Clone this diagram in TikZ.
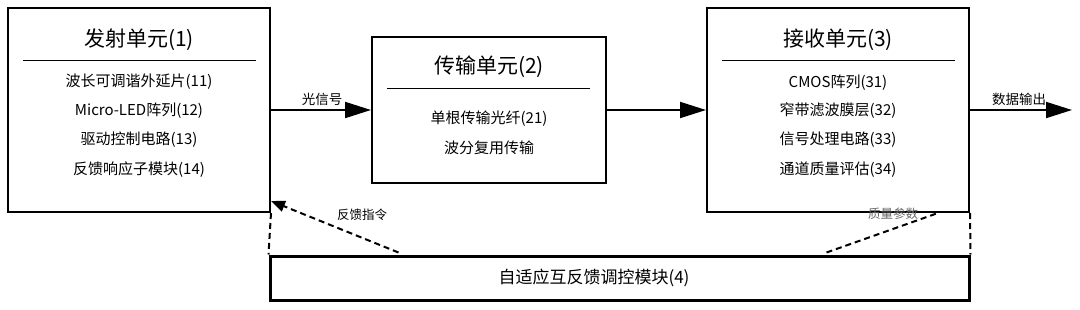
\documentclass[tikz,border=0pt]{standalone}
\usepackage{fontspec}
\newfontfamily\cjk{Noto Sans CJK SC}
\usepackage{tikz}
\usetikzlibrary{arrows.meta,positioning,calc}

\begin{document}
\begin{tikzpicture}[x=1pt,y=-1pt,font=\cjk,
  unit/.style={draw,line width=2pt,minimum width=#1,inner sep=0pt},
  ttl/.style={font=\cjk\fontsize{21}{25}\selectfont},
  itm/.style={font=\cjk\fontsize{15}{18}\selectfont},
  lbl/.style={font=\cjk\fontsize{13.5}{16}\selectfont},
  sml/.style={font=\cjk\fontsize{12.5}{15}\selectfont},
  ed/.style={-{Triangle[length=26pt,width=16pt]},line width=2pt},
  fb/.style={line width=2pt,dash pattern=on 6pt off 4pt}]
\useasboundingbox (0,0) rectangle (1080,309);
% units
\node[unit=262pt,minimum height=204pt] (tx) at (139,110) {};
\node[unit=234pt,minimum height=146pt] (tr) at (489,110) {};
\node[unit=262pt,minimum height=204pt] (rx) at (838,110) {};
\node[draw,line width=3pt,minimum width=699pt,minimum height=44pt,inner sep=0pt] (ad) at (619.5,278) {};
\node[font=\cjk\fontsize{17}{20}\selectfont] at (594,278) {自适应互反馈调控模块(4)};
% transmitter
\node[ttl] (txt) at (139,40) {发射单元(1)};
\draw[line width=1pt] (23,60) -- (256,60);
\node[itm] (tx1) at (139,82) {波长可调谐外延片(11)};
\node[itm] (tx2) at (139,111) {Micro-LED阵列(12)};
\node[itm] (tx3) at (139,140) {驱动控制电路(13)};
\node[itm] (tx4) at (139,170) {反馈响应子模块(14)};
% transmission
\node[ttl] (trt) at (489,67) {传输单元(2)};
\draw[line width=1pt] (387,88) -- (590,88);
\node[itm] (tr1) at (489,119) {单根传输光纤(21)};
\node[itm] (tr2) at (489,148) {波分复用传输};
% receiver
\node[ttl] (rxt) at (838,40) {接收单元(3)};
\draw[line width=1pt] (722,60) -- (955,60);
\node[itm] (rx1) at (838,83) {CMOS阵列(31)};
\node[itm] (rx2) at (838,111) {窄带滤波膜层(32)};
\node[itm] (rx3) at (838,140) {信号处理电路(33)};
\node[itm] (rx4) at (838,170) {通道质量评估(34)};
% links
\coordinate (out) at (1072,110);
\draw[ed] (tx) -- (tr);
\draw[ed] (tr) -- (rx);
\draw[ed] (rx) -- (out);
\node[lbl] at (322,99) {光信号};
\node[lbl] at (1019,99) {数据输出};
% feedback
\draw[fb] (tx.south east) -- (ad.north west);
\draw[fb] (rx.south east) -- (ad.north east);
\coordinate (fa) at ($(ad.north west)+(130,-2)$);
\coordinate (fq) at ($(ad.north east)+(-144,-2)$);
\draw[fb,-{Triangle[length=14pt,width=11pt]}] (fa) -- ($(tx.south east)+(0,-12)$);
\draw[fb] (fq) -- ($(rx.south east)+(-32,0)$);
\node[sml] at (362,215) {反馈指令};
\node[sml,text=black!60] at (893,214) {质量参数};
\end{tikzpicture}
\end{document}
